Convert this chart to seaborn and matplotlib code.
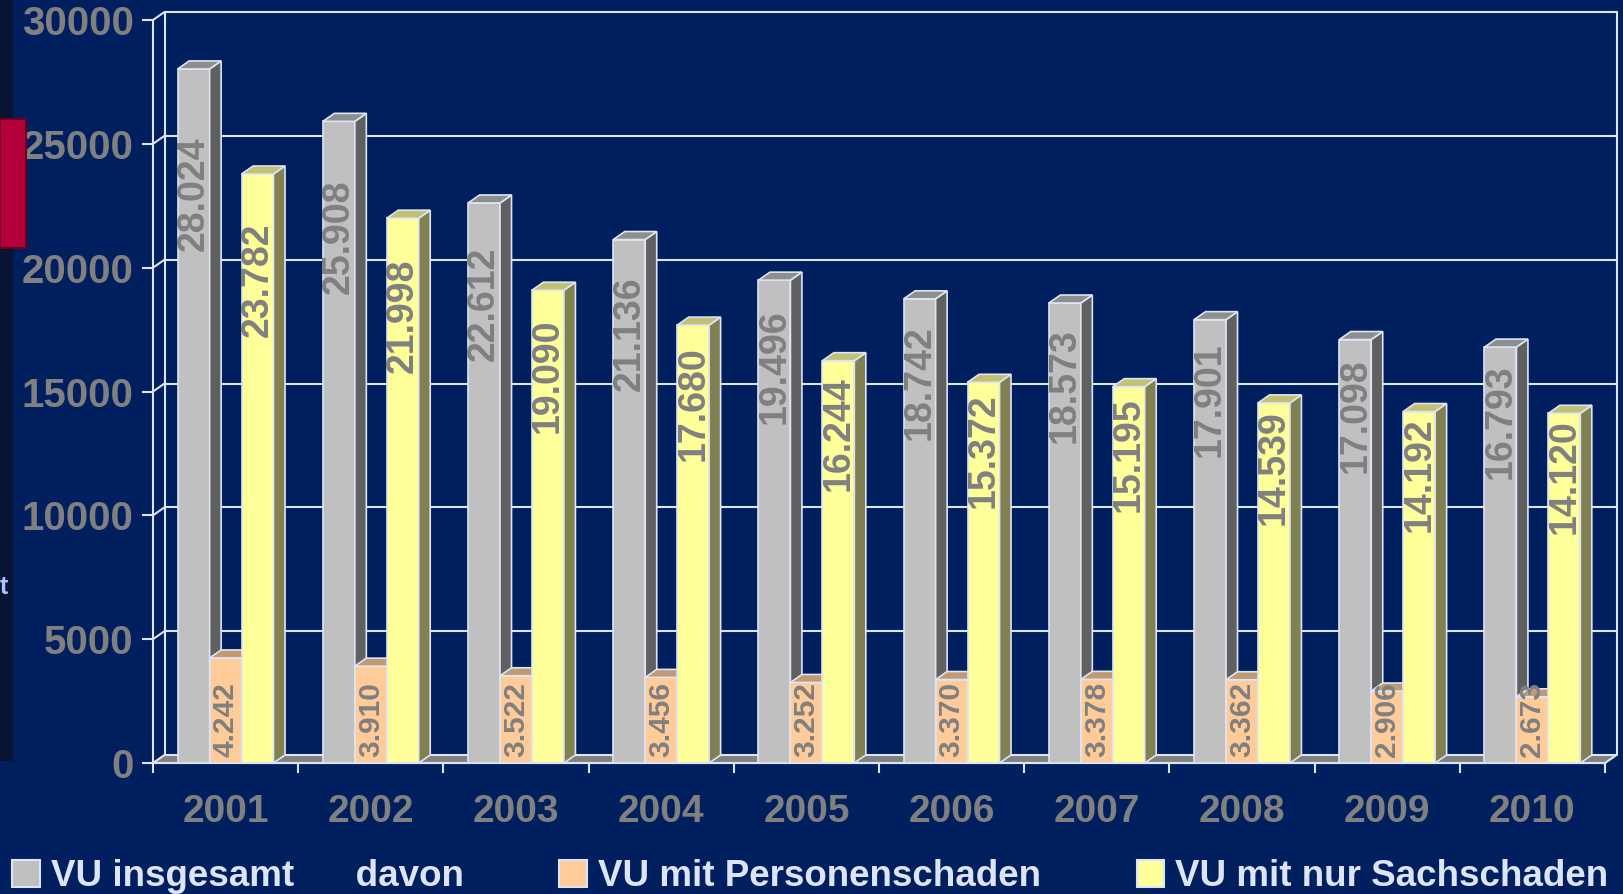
import numpy as np
import pandas as pd
import matplotlib
matplotlib.use("Agg")
import matplotlib.pyplot as plt
import matplotlib.colors as mcolors
from matplotlib.patches import Polygon, Rectangle
import seaborn as sns

# Verkehrsunfälle 2001-2010
years = ['2001', '2002', '2003', '2004', '2005', '2006', '2007', '2008', '2009', '2010']
vu_total = [28024, 25908, 22612, 21136, 19496, 18742, 18573, 17901, 17098, 16793]
vu_personen = [4242, 3910, 3522, 3456, 3252, 3370, 3378, 3362, 2906, 2673]
vu_sach = [23782, 21998, 19090, 17680, 16244, 15372, 15195, 14539, 14192, 14120]

series_names = ['VU insgesamt', 'VU mit Personenschaden', 'VU mit nur Sachschaden']
legend_labels = ['VU insgesamt      davon', 'VU mit Personenschaden', 'VU mit nur Sachschaden']
y_ticks = [0, 5000, 10000, 15000, 20000, 25000, 30000]

df = pd.DataFrame({
    'year': years * 3,
    'series': np.repeat(series_names, len(years)),
    'value': vu_total + vu_personen + vu_sach,
})

# colours
bg = '#001f5e'
line_col = '#dde4f5'
label_grey = '#808080'
front_col = {'VU insgesamt': '#c0c0c0', 'VU mit Personenschaden': '#ffcc99', 'VU mit nur Sachschaden': '#ffff99'}
side_col = {'VU insgesamt': '#606060', 'VU mit Personenschaden': '#806650', 'VU mit nur Sachschaden': '#808050'}
top_col = {'VU insgesamt': '#8e8e8e', 'VU mit Personenschaden': '#c29a72', 'VU mit nur Sachschaden': '#c2c072'}

sns.set_theme(style='white')
plt.rcParams['font.family'] = ['Liberation Sans', 'DejaVu Sans']

fig = plt.figure(figsize=(16.23, 8.94), dpi=100, facecolor=bg)
ax = fig.add_axes([0.09427, 0.14653, 0.89464, 0.83110])
ax.set_facecolor(bg)

sns.barplot(data=df, x='year', y='value', hue='series', hue_order=series_names,
            palette=front_col, width=0.66, saturation=1, edgecolor=line_col,
            linewidth=1.2, legend=False, ax=ax)
bars = sorted([p for p in ax.patches if isinstance(p, Rectangle)], key=lambda p: p.get_x())

ax.set_xlim(-0.5, 9.5)
ax.set_ylim(0, 30000)
xmin, xmax = -0.5, 9.5

# fake 3D depth (in data units)
dx = 11.5 / 145.2
dy = 8 * 30000 / 743

# back wall gridlines + left wall connectors
for y in y_ticks[1:]:
    ax.plot([xmin + dx, xmax + dx], [y + dy, y + dy], color=line_col, lw=1.5, zorder=1, clip_on=False)
    ax.plot([xmin, xmin + dx], [y, y + dy], color=line_col, lw=1.5, zorder=1, clip_on=False)
for xv in [xmin + dx, xmax + dx]:
    ax.plot([xv, xv], [dy, 30000 + dy], color=line_col, lw=1.5, zorder=1, clip_on=False)

# floor
floor = Polygon([(xmin, 0), (xmax, 0), (xmax + dx, dy), (xmin + dx, dy)], closed=True,
                facecolor='#808080', edgecolor=line_col, lw=1.5, zorder=1.5, clip_on=False)
ax.add_patch(floor)

# turn flat bars into boxes
hex_to_series = {mcolors.to_hex(c): s for s, c in front_col.items()}
for k, b in enumerate(bars):
    s = hex_to_series[mcolors.to_hex(b.get_facecolor())]
    x0, w, h = b.get_x(), b.get_width(), b.get_height()
    x1 = x0 + w
    z = 3 + k * 0.01
    b.set_zorder(z)
    side = Polygon([(x1, 0), (x1 + dx, dy), (x1 + dx, h + dy), (x1, h)], closed=True,
                   facecolor=side_col[s], edgecolor=line_col, lw=1.2, zorder=z)
    top = Polygon([(x0, h), (x1, h), (x1 + dx, h + dy), (x0 + dx, h + dy)], closed=True,
                  facecolor=top_col[s], edgecolor=line_col, lw=1.2, zorder=z)
    ax.add_patch(side)
    ax.add_patch(top)
    lbl = f"{int(round(h)):,}".replace(',', '.')
    xc = x0 + w / 2
    if s == 'VU mit Personenschaden':
        ax.text(xc, 250, lbl, rotation=90, ha='center', va='bottom', fontsize=21.5,
                fontweight='bold', color=label_grey, zorder=10)
    else:
        ax.text(xc, h * 0.82, lbl, rotation=90, ha='center', va='center', fontsize=27,
                fontweight='bold', color=label_grey, zorder=10)

# axes, ticks
for sp in ['top', 'right']:
    ax.spines[sp].set_visible(False)
for sp in ['left', 'bottom']:
    ax.spines[sp].set_color(line_col)
    ax.spines[sp].set_linewidth(1.5)
    ax.spines[sp].set_zorder(2)

ax.set_xlabel('')
ax.set_ylabel('')
ax.set_xticks(np.arange(-0.5, 10, 1))
ax.set_xticklabels([])
ax.set_xticks(np.arange(len(years)), minor=True)
ax.set_xticklabels(years, minor=True)
ax.tick_params(axis='x', which='major', bottom=True, length=7.5, width=1.5, color=line_col, direction='out')
ax.tick_params(axis='x', which='minor', bottom=True, length=0, pad=22, labelsize=28, labelcolor=label_grey)
for t in ax.get_xticklabels(minor=True):
    t.set_fontweight('bold')

ax.set_yticks(y_ticks)
ax.set_yticklabels([str(v) for v in y_ticks])
ax.tick_params(axis='y', left=True, length=8, width=1.5, color=line_col, direction='out', pad=6,
               labelsize=29, labelcolor=label_grey)
for t in ax.get_yticklabels():
    t.set_fontweight('bold')

# legend
handles = [Rectangle((0, 0), 1, 1, facecolor=front_col[s], edgecolor=line_col, linewidth=1.5)
           for s in series_names]
fig.legend(handles, legend_labels, loc='center left', bbox_to_anchor=(12 / 1623, 17 / 894),
           ncol=3, frameon=False, prop={'size': 26.5, 'weight': 'bold'}, labelcolor=line_col,
           handlelength=0.75, handleheight=0.75, handletextpad=0.3, columnspacing=2.6,
           borderpad=0, borderaxespad=0)

# bits of the slide peeking in at the left edge
fig.add_artist(Rectangle((0, 0.149), 13 / 1623, 0.851, transform=fig.transFigure,
                         facecolor='#081433', edgecolor='none', zorder=20))
fig.add_artist(Rectangle((0, 0.7226), 26 / 1623, 0.1443, transform=fig.transFigure,
                         facecolor='#b5003c', edgecolor='#6a0022', lw=1.5, zorder=21))
fig.text(0.0, 0.343, 't', color='#a8c4ff', fontsize=18, fontweight='bold', va='center', zorder=22)

fig.savefig('out.png', dpi=100, facecolor=bg)
